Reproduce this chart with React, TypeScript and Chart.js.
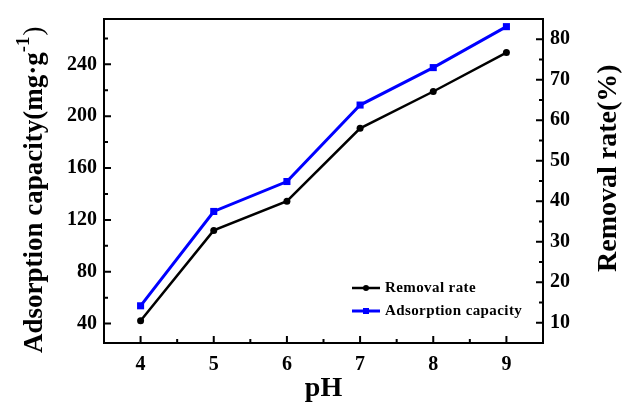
import React, { useEffect, useRef } from "react";
import { Chart, registerables } from "chart.js";

Chart.register(...registerables);

const phValues = [4, 5, 6, 7, 8, 9];
const removalRate = [10.5, 32.8, 40.0, 58.0, 67.1, 76.7];
const adsorptionCapacity = [53.7, 126.5, 149.6, 208.6, 237.5, 269.1];

const xTicks = [4, 5, 6, 7, 8, 9];
const xMinorTicks = [3.5, 4.5, 5.5, 6.5, 7.5, 8.5, 9.5];
const leftTicks = [40, 80, 120, 160, 200, 240];
const leftMinorTicks = [60, 100, 140, 180, 220, 260];
const rightTicks = [10, 20, 30, 40, 50, 60, 70, 80];
const rightMinorTicks = [15, 25, 35, 45, 55, 65, 75, 85];

const FONT = '"Liberation Serif", "Times New Roman", serif';
const BLUE = "#0000ff";

const framePlugin = {
  id: "frameTicksTitles",
  afterDraw(chart: any) {
    const { ctx, chartArea, scales } = chart;
    const { left, right, top, bottom } = chartArea;
    ctx.save();
    ctx.strokeStyle = "#000";
    ctx.lineWidth = 2;
    ctx.strokeRect(left, top, right - left, bottom - top);

    const major = 7;
    const minor = 4;
    ctx.beginPath();
    xTicks.forEach((v) => {
      const px = scales.x.getPixelForValue(v);
      ctx.moveTo(px, bottom);
      ctx.lineTo(px, bottom - major);
    });
    xMinorTicks.forEach((v) => {
      const px = scales.x.getPixelForValue(v);
      ctx.moveTo(px, bottom);
      ctx.lineTo(px, bottom - minor);
    });
    leftTicks.forEach((v) => {
      const py = scales.y.getPixelForValue(v);
      ctx.moveTo(left, py);
      ctx.lineTo(left + major, py);
    });
    leftMinorTicks.forEach((v) => {
      const py = scales.y.getPixelForValue(v);
      ctx.moveTo(left, py);
      ctx.lineTo(left + minor, py);
    });
    rightTicks.forEach((v) => {
      const py = scales.y1.getPixelForValue(v);
      ctx.moveTo(right, py);
      ctx.lineTo(right - major, py);
    });
    rightMinorTicks.forEach((v) => {
      const py = scales.y1.getPixelForValue(v);
      ctx.moveTo(right, py);
      ctx.lineTo(right - minor, py);
    });
    ctx.stroke();

    // Left title
    ctx.fillStyle = "#000";
    ctx.save();
    ctx.translate(42, 353);
    ctx.rotate(-Math.PI / 2);
    ctx.textAlign = "left";
    ctx.textBaseline = "alphabetic";
    ctx.font = `bold 27px ${FONT}`;
    const mainText = "Adsorption capacity(mg·g";
    ctx.fillText(mainText, 0, 0);
    let w = ctx.measureText(mainText).width;
    ctx.font = `bold 19px ${FONT}`;
    ctx.fillText("-1", w, -13);
    w += ctx.measureText("-1").width;
    ctx.font = `27px ${FONT}`;
    ctx.fillText(")", w + 1, 0);
    ctx.restore();

    // Right title
    ctx.save();
    ctx.translate(616, 272);
    ctx.rotate(-Math.PI / 2);
    ctx.textAlign = "left";
    ctx.textBaseline = "alphabetic";
    ctx.font = `bold 28px ${FONT}`;
    ctx.fillText("Removal rate(%)", 0, 0);
    ctx.restore();

    // Legend
    const legendItems = [
      { label: "Removal rate", color: "#000", lw: 2.5, style: "circle", y: 288 },
      { label: "Adsorption capacity", color: BLUE, lw: 3, style: "rect", y: 311 },
    ];
    legendItems.forEach((it) => {
      ctx.strokeStyle = it.color;
      ctx.fillStyle = it.color;
      ctx.lineWidth = it.lw;
      ctx.beginPath();
      ctx.moveTo(352, it.y);
      ctx.lineTo(380, it.y);
      ctx.stroke();
      if (it.style === "circle") {
        ctx.beginPath();
        ctx.arc(366, it.y, 3, 0, Math.PI * 2);
        ctx.fill();
      } else {
        ctx.fillRect(363, it.y - 3, 6, 6);
      }
      ctx.fillStyle = "#000";
      ctx.font = `bold 15px ${FONT}`;
      try {
        (ctx as any).letterSpacing = "0.4px";
      } catch (e) {}
      ctx.textAlign = "left";
      ctx.textBaseline = "middle";
      ctx.fillText(it.label, 385, it.y);
      try {
        (ctx as any).letterSpacing = "0px";
      } catch (e) {}
    });
    ctx.restore();
  },
};

export default function App() {
  const canvasRef = useRef<HTMLCanvasElement | null>(null);

  useEffect(() => {
    if (!canvasRef.current) return;
    const tickFont = { family: FONT, size: 20, weight: "bold" as const };
    const chart = new Chart(canvasRef.current, {
      type: "line",
      data: {
        datasets: [
          {
            label: "Removal rate",
            data: phValues.map((x, i) => ({ x, y: removalRate[i] })),
            yAxisID: "y1",
            borderColor: "#000",
            backgroundColor: "#000",
            borderWidth: 2.5,
            pointStyle: "circle",
            pointRadius: 3.5,
            pointBorderWidth: 0,
            tension: 0,
          },
          {
            label: "Adsorption capacity",
            data: phValues.map((x, i) => ({ x, y: adsorptionCapacity[i] })),
            yAxisID: "y",
            borderColor: BLUE,
            backgroundColor: BLUE,
            borderWidth: 3,
            pointStyle: "rect",
            pointRadius: 5,
            pointBorderWidth: 0,
            tension: 0,
          },
        ],
      },
      options: {
        animation: false,
        responsive: false,
        maintainAspectRatio: false,
        layout: { padding: { top: 18, left: 0, right: 0, bottom: 0 } },
        plugins: { legend: { display: false }, tooltip: { enabled: false } },
        scales: {
          x: {
            type: "linear",
            position: "bottom",
            min: 3.5,
            max: 9.5,
            afterBuildTicks: (s: any) => {
              s.ticks = xTicks.map((v) => ({ value: v }));
            },
            afterFit: (s: any) => {
              s.height = 62;
            },
            grid: { display: false, drawTicks: false },
            border: { display: false },
            ticks: { font: tickFont, color: "#000", padding: 10, maxRotation: 0 },
            title: {
              display: true,
              text: "pH",
              color: "#000",
              font: { family: FONT, size: 28, weight: "bold" },
              padding: { top: 0, bottom: -1 },
            },
          },
          y: {
            type: "linear",
            position: "left",
            min: 25,
            max: 275,
            afterBuildTicks: (s: any) => {
              s.ticks = leftTicks.map((v) => ({ value: v }));
            },
            afterFit: (s: any) => {
              s.width = 104;
            },
            grid: { display: false, drawTicks: false },
            border: { display: false },
            ticks: { font: tickFont, color: "#000", padding: 7 },
          },
          y1: {
            type: "linear",
            position: "right",
            min: 5,
            max: 85,
            afterBuildTicks: (s: any) => {
              s.ticks = rightTicks.map((v) => ({ value: v }));
            },
            afterFit: (s: any) => {
              s.width = 82;
            },
            grid: { display: false, drawTicks: false },
            border: { display: false },
            ticks: { font: tickFont, color: "#000", padding: 7 },
          },
        },
      },
      plugins: [framePlugin],
    });
    return () => chart.destroy();
  }, []);

  return (
    <div style={{ position: "absolute", left: 0, top: 0, width: 625, height: 405, background: "#fff" }}>
      <canvas ref={canvasRef} width={625} height={405} />
    </div>
  );
}
